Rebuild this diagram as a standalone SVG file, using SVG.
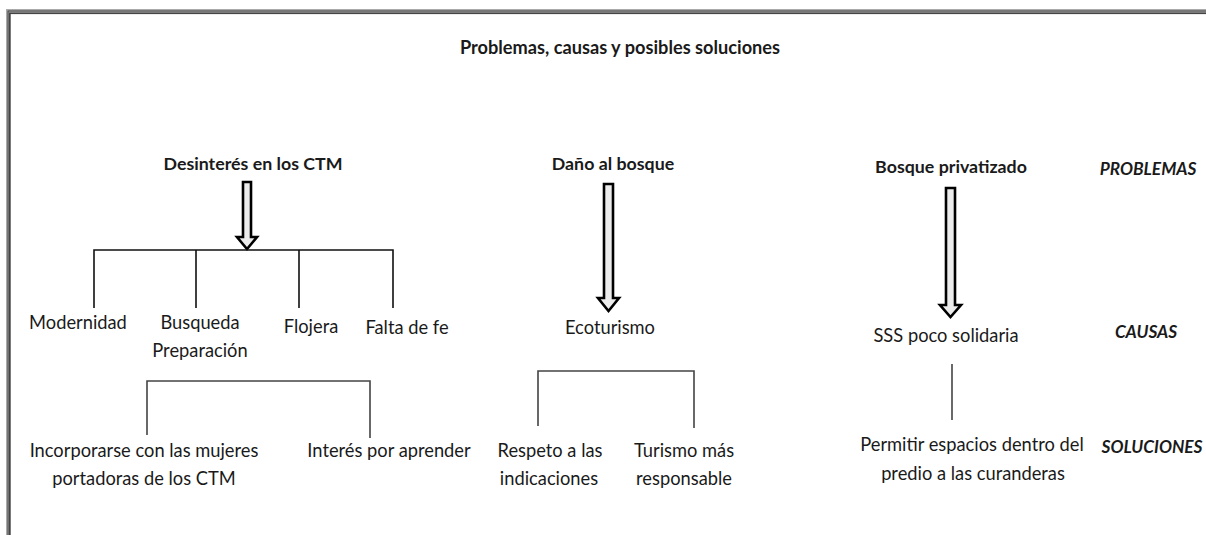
<svg xmlns="http://www.w3.org/2000/svg" width="1206" height="535" viewBox="0 0 1206 535">
<style>
.t{font-family:Lato,"Open Sans","Liberation Sans",sans-serif;font-size:18.3px;fill:#1a1a1a;text-anchor:middle}
.b{font-weight:bold;font-size:17.8px}
.i{font-style:italic;font-weight:bold;font-size:17.3px}
.ln{stroke:#111;stroke-width:1.6;fill:none}
.ln2{stroke:#444;stroke-width:1.6;fill:none}
.arr{fill:#ececec;stroke:#000;stroke-width:2.6;stroke-linejoin:miter}
</style>
<rect width="1206" height="535" fill="#fff"/>
<g id="frame" fill="none">
<rect x="6.5" y="9.5" width="1220" height="540" stroke="#aaa" stroke-width="1"/>
<rect x="8" y="11" width="1220" height="540" stroke="#555" stroke-width="1.6"/>
<rect x="9.8" y="13.2" width="1220" height="540" stroke="#444" stroke-width="1.8"/>
</g>
<g id="title"><text class="t b" x="620" y="54" style="font-size:18.2px">Problemas, causas y posibles soluciones</text></g>
<g id="labels">
<text class="t i" x="1148" y="175">PROBLEMAS</text>
<text class="t i" x="1146" y="338">CAUSAS</text>
<text class="t i" x="1152" y="453">SOLUCIONES</text>
</g>
<g id="p1"><text class="t b" x="253" y="170">Desinterés en los CTM</text></g>
<g id="p2"><text class="t b" x="613" y="170">Daño al bosque</text></g>
<g id="p3"><text class="t b" x="951" y="173">Bosque privatizado</text></g>
<g id="c1"><text class="t" x="78" y="329">Modernidad</text></g>
<g id="c2"><text class="t" x="200" y="329">Busqueda</text><text class="t" x="200" y="357">Preparación</text></g>
<g id="c3"><text class="t" x="311" y="333">Flojera</text></g>
<g id="c4"><text class="t" x="407" y="334">Falta de fe</text></g>
<g id="c5"><text class="t" x="610" y="334">Ecoturismo</text></g>
<g id="c6"><text class="t" x="946" y="342">SSS poco solidaria</text></g>
<g id="s1"><text class="t" x="144" y="457">Incorporarse con las mujeres</text><text class="t" x="144" y="485">portadoras de los CTM</text></g>
<g id="s2"><text class="t" x="389" y="457">Interés por aprender</text></g>
<g id="s3"><text class="t" x="550" y="457">Respeto a las</text><text class="t" x="549" y="485">indicaciones</text></g>
<g id="s4"><text class="t" x="684" y="457">Turismo más</text><text class="t" x="684" y="485">responsable</text></g>
<g id="s5"><text class="t" x="972" y="451">Permitir espacios dentro del</text><text class="t" x="973" y="480">predio a las curanderas</text></g>
<g id="connectors">
<polygon class="arr" points="243,182 251,182 251,237 257,237 247,249 237,237 243,237"/>
<polygon class="arr" points="604,184 613,184 613,298 619,298 608.5,311 598,298 604,298"/>
<polygon class="arr" points="946,188 955,188 955,305 961,305 950.5,317 940,305 946,305"/>
<path class="ln" d="M94,308 V250 H393 V308 M196,250 V308 M299,250 V308"/>
<path class="ln2" d="M147,435 V381 H370 V438"/>
<path class="ln2" d="M538,426 V371 H694 V428"/>
<path class="ln2" d="M952,364 V420"/>
</g>
</svg>
